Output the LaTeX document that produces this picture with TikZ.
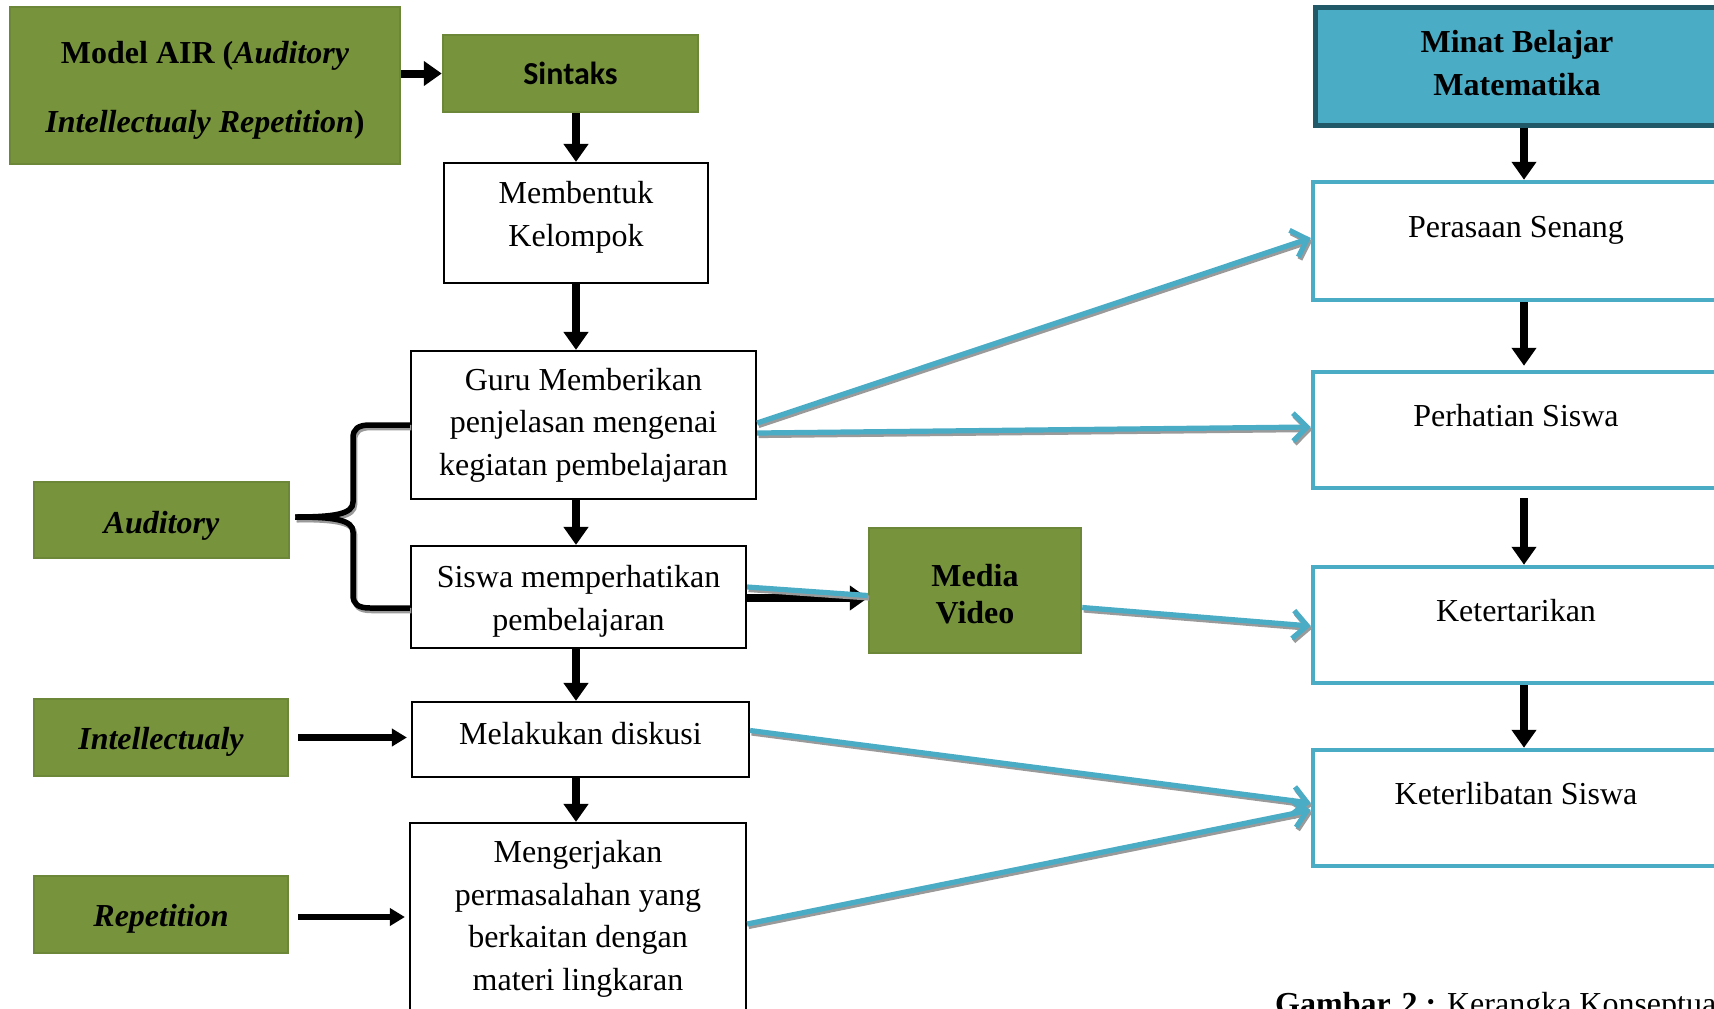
\documentclass[tikz,border=0pt]{standalone}
\usepackage{fontspec}
\setmainfont{Liberation Serif}
\newfontfamily\carlito{Carlito}
\usetikzlibrary{arrows.meta,calc}
\definecolor{olivefill}{HTML}{77933C}
\definecolor{olivedraw}{HTML}{6C8737}
\definecolor{aqua}{HTML}{4BACC6}
\definecolor{tealdark}{HTML}{215968}
\definecolor{shadowgray}{HTML}{9A9A9A}
\newcommand\topstrut[1]{\rule{0pt}{#1}}
\newcommand\botstrut[1]{\rule[-#1]{0pt}{#1}}
\begin{document}
\begin{tikzpicture}[x=1pt,y=-1pt,
  every node/.style={font=\fontsize{32}{42.5}\selectfont},
  greenbox/.style={draw=olivedraw, line width=2.5pt, fill=olivefill, inner sep=0pt, align=center,
     font=\fontsize{32}{42.5}\selectfont\bfseries\itshape},
  plainbox/.style={draw=black, line width=2.2pt, fill=white, inner sep=0pt, align=center},
  bluebox/.style={draw=aqua, line width=4.5pt, fill=white, inner sep=0pt, text height=24pt, text depth=32pt},
  blk/.style={line width=8pt, -{Triangle[length=18pt,width=24pt]}},
  blksmall/.style={line width=6.5pt, -{Triangle[length=15pt,width=17pt]}},
  shade/.style={draw=shadowgray, transform canvas={xshift=1.5pt, yshift=-2.5pt}},
  barb/.style={-{Straight Barb[length=14pt,width=28pt]}},
  bluearrow/.style={draw=aqua, line width=5.2pt, barb},
  shadearrow/.style={shade, line width=5.2pt, barb},
  blueline/.style={draw=aqua, line width=5.2pt},
  shadeline/.style={shade, line width=5.2pt},
  bracepath/.style={draw=black, line width=5.5pt},
  shadebrace/.style={shade, line width=5.5pt}
]
\useasboundingbox (0,0) rectangle (1714,1009);
\fill[white] (0,0) rectangle (1714,1009);
\clip (0,0) rectangle (1714,1009);

% left column
\node[greenbox, minimum width=390pt, minimum height=157pt, font=\fontsize{32}{69}\selectfont\bfseries]
  (air) at (205,85.5) {\topstrut{32pt}Model AIR (\textit{Auditory}\\\textit{Intellectualy Repetition})};
\node[greenbox, minimum width=255pt, minimum height=77pt, font=\fontsize{32}{42.5}\selectfont\carlito\bfseries]
  (sintaks) at (570.5,73.5) {Sintaks};
\node[plainbox, minimum width=264pt, minimum height=120pt] (membentuk) at (576,223)
  {Membentuk\\Kelompok\botstrut{18pt}};
\node[plainbox, minimum width=345pt, minimum height=148pt] (guru) at (583.5,425)
  {Guru Memberikan\\penjelasan mengenai\\kegiatan pembelajaran};
\node[plainbox, minimum width=335pt, minimum height=102pt] (siswa) at (578.5,597)
  {\topstrut{31pt}Siswa memperhatikan\\pembelajaran};
\node[plainbox, minimum width=337pt, minimum height=75pt, text height=22pt, text depth=13pt]
  (melakukan) at (580.5,739.5) {Melakukan diskusi};
\node[plainbox, minimum width=336pt, minimum height=192pt] (mengerjakan) at (578,919)
  {Mengerjakan\\permasalahan yang\\berkaitan dengan\\materi lingkaran};

\node[greenbox, minimum width=255pt, minimum height=76pt, text height=33pt] (aud) at (161.5,520) {Auditory};
\node[greenbox, minimum width=254pt, minimum height=77pt, text height=31pt] (intel) at (161,737.5) {Intellectualy};
\node[greenbox, minimum width=254pt, minimum height=77pt, text height=31pt] (rep) at (161,914.5) {Repetition};

\node[greenbox, minimum width=212pt, minimum height=125pt, font=\fontsize{32}{37}\selectfont\bfseries]
  (media) at (975,590.5) {\topstrut{28.5pt}Media\\Video};

% right column
\node[draw=tealdark, line width=5pt, fill=aqua, inner sep=0pt, align=center,
  minimum width=404pt, minimum height=118pt, font=\fontsize{32}{43}\selectfont\bfseries]
  (minat) at (1517,66) {Minat Belajar\\Matematika\botstrut{6.5pt}};
\node[bluebox, minimum width=406pt, minimum height=118pt] (pera) at (1516,241) {Perasaan Senang};
\node[bluebox, minimum width=406pt, minimum height=116pt] (perh) at (1516,430) {Perhatian Siswa};
\node[bluebox, minimum width=406pt, minimum height=116pt] (ket) at (1516,625) {Ketertarikan};
\node[bluebox, minimum width=406pt, minimum height=116pt] (ketl) at (1516,808) {Keterlibatan Siswa};

% black arrows
\draw[blk] (air.east |- sintaks.west) -- (sintaks.west);
\draw[blk] (sintaks.south -| membentuk.north) -- (membentuk.north);
\draw[blk] (membentuk.south) -- (membentuk.south |- guru.north);
\draw[blk] (guru.south -| membentuk) -- (siswa.north -| membentuk);
\draw[blk] (siswa.south -| membentuk) -- (melakukan.north -| membentuk);
\draw[blk] (melakukan.south -| membentuk) -- (mengerjakan.north -| membentuk);
\draw[blksmall, shorten >=4pt] ($(intel.east)+(9,0)$) -- (intel.east -| melakukan.west);
\draw[blksmall, shorten >=4pt] ($(rep.east)+(9,2.5)$) -- ($(rep.east -| mengerjakan.west)+(0,2.5)$);
\draw[blk] ($(siswa.east)+(0,1)$) -- ($(siswa.east -| media.west)+(0,1)$);

\draw[blk] ($(minat.south)+(7,0)$) -- ($(pera.north)+(8,0)$);
\draw[blk, shorten >=4pt] ($(pera.south)+(8,0)$) -- ($(perh.north)+(8,0)$);
\draw[blk, shorten <=8pt] ($(perh.south)+(8,0)$) -- ($(ket.north)+(8,0)$);
\draw[blk] ($(ket.south)+(8,0)$) -- ($(ketl.north)+(8,0)$);

% brace (shadow, then black)
\foreach \st in {shadebrace, bracepath} {
  \draw[\st] ($(aud.east)+(5,-3)$) .. controls (335,517) and (353,514) .. (353,502)
    -- (353,438) .. controls (353,429) and (358,425) .. (370,425) -- (guru.west);
  \draw[\st] ($(aud.east)+(5,-3)$) .. controls (335,517) and (353,520) .. (353,532)
    -- (353,595) .. controls (353,604) and (358,608) .. (370,608) -- ($(siswa.west)+(0,11)$);
}

% blue connectors (shadow, then blue)
\foreach \st/\sl in {shadearrow/shadeline, bluearrow/blueline} {
  \draw[\st] ($(guru.east)+(0,-2)$) -- ($(pera.west)+(0,-3)$);
  \draw[\st] ($(guru.east)+(0,8)$) -- ($(perh.west)+(0,-3)$);
  \draw[\sl] ($(siswa.east)+(0,-10)$) -- ($(media.west)+(0,5)$);
  \draw[\st] ($(media.east)+(0,17)$) -- ($(ket.west)+(0,1)$);
  \draw[\st] ($(melakukan.east)+(0,-9)$) -- ($(ketl.west)+(0,-5)$);
  \draw[\st] ($(mengerjakan.east)+(0,5)$) -- ($(ketl.west)+(0,2)$);
}

% caption
\node[anchor=base west, inner sep=0pt] (caption) at (1275,1014)
  {\textbf{Gambar\hspace{3pt} 2 :} Kerangka Konseptual};
\end{tikzpicture}
\end{document}
